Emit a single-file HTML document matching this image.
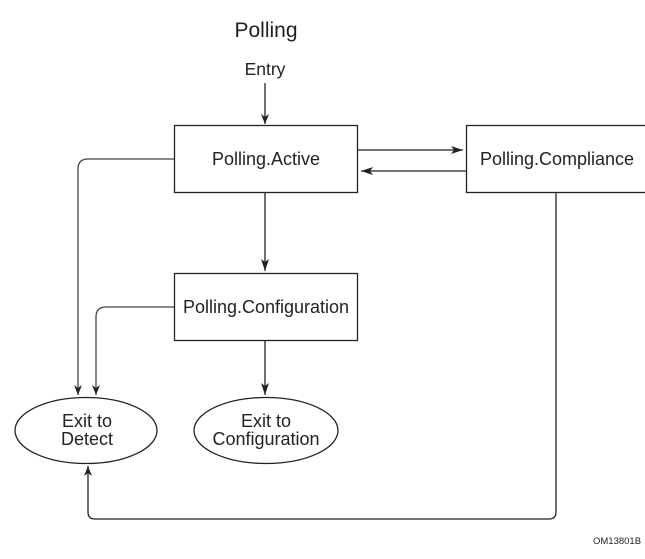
<!DOCTYPE html>
<html><head><style>html,body{margin:0;padding:0;background:#fff}svg{display:block}</style></head>
<body>
<svg width="645" height="559" viewBox="0 0 645 559" xmlns="http://www.w3.org/2000/svg" font-family="Liberation Sans, Arial, sans-serif" fill="#222">
<defs>
<marker id="a" viewBox="0 0 10 10" refX="10" refY="5" markerWidth="10" markerHeight="10" markerUnits="userSpaceOnUse" orient="auto"><path d="M0,1 L10,5 L0,9 L3,5z" fill="#222"/></marker>
<marker id="b" viewBox="0 0 12 10" refX="12" refY="5" markerWidth="14" markerHeight="10" markerUnits="userSpaceOnUse" orient="auto"><path d="M0,1 L12,5 L0,9 L3,5z" fill="#222"/></marker>
</defs>
<text x="266" y="37" font-size="21" text-anchor="middle">Polling</text>
<text x="265" y="75" font-size="17.5" text-anchor="middle">Entry</text>
<g stroke="#222" stroke-width="1.3" fill="none">
<line x1="265" y1="83" x2="265" y2="124" marker-end="url(#a)"/>
<rect x="174.5" y="125.5" width="183" height="67" fill="#fff"/>
<rect x="466.5" y="125.5" width="190" height="67" fill="#fff"/>
<rect x="174.5" y="273.5" width="183" height="67" fill="#fff"/>
<line x1="358" y1="150" x2="463" y2="150" marker-end="url(#b)"/>
<line x1="466" y1="171" x2="361" y2="171" marker-end="url(#b)"/>
<line x1="265" y1="193" x2="265" y2="271" marker-end="url(#b)"/>
<line x1="265" y1="341" x2="265" y2="395" marker-end="url(#b)"/>
<path d="M174,159 H88 Q78,159 78,169 V395" stroke="#444" marker-end="url(#a)"/>
<path d="M174,307 H106 Q96,307 96,317 V395" stroke="#444" marker-end="url(#a)"/>
<path d="M556,193 V512 Q556,519 549,519 H95 Q88,519 88,512 V466" marker-end="url(#a)"/>
<ellipse cx="86" cy="430.5" rx="71" ry="33"/>
<ellipse cx="266" cy="430.5" rx="72" ry="33"/>
</g>
<g font-size="18" text-anchor="middle">
<text x="266" y="165">Polling.Active</text>
<text x="557" y="165">Polling.Compliance</text>
<text x="266" y="313">Polling.Configuration</text>
<text x="87" y="427">Exit to</text>
<text x="87" y="445">Detect</text>
<text x="266" y="427">Exit to</text>
<text x="266" y="445">Configuration</text>
</g>
<text x="593" y="544" font-size="9.5">OM13801B</text>
</svg>
</body></html>
